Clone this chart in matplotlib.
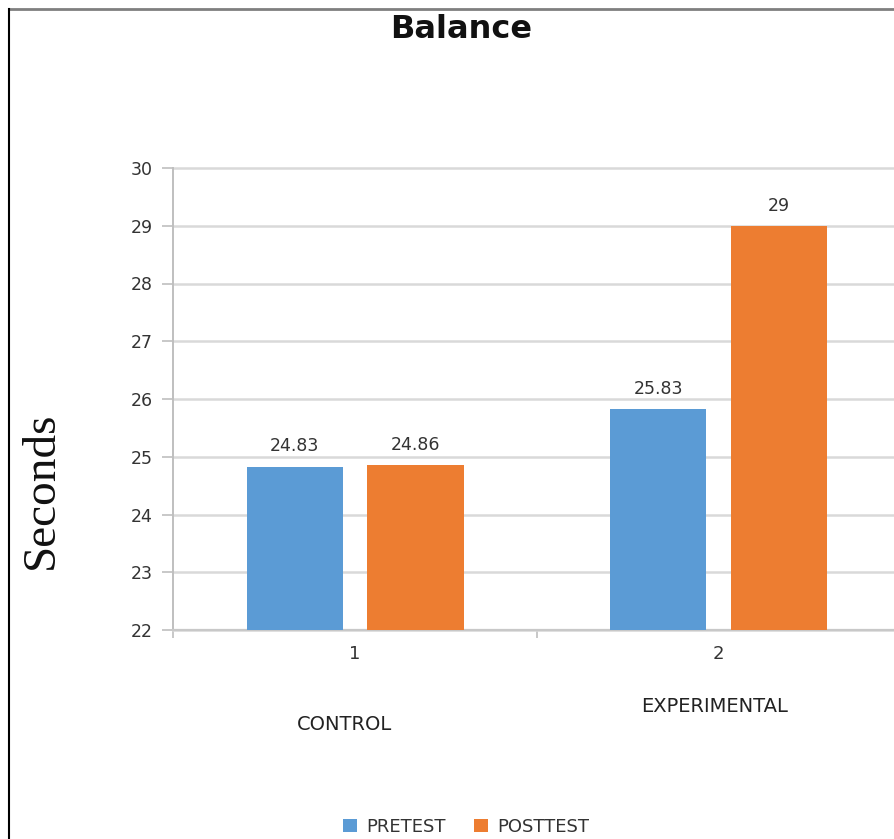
import matplotlib
matplotlib.use("Agg")
import matplotlib.pyplot as plt
from matplotlib.lines import Line2D
import numpy as np

# Data
groups = ["1", "2"]
group_names = ["CONTROL", "EXPERIMENTAL"]
series_names = ["PRETEST", "POSTTEST"]
pretest = [24.83, 25.83]
posttest = [24.86, 29.0]
value_labels_pre = ["24.83", "25.83"]
value_labels_post = ["24.86", "29"]
y_ticks = [22, 23, 24, 25, 26, 27, 28, 29, 30]

blue = "#5B9BD5"
orange = "#ED7D31"
grid_col = "#D9D9D9"
text_col = "#333333"

W, H = 895, 839
fig = plt.figure(figsize=(W / 100, H / 100), dpi=100)
fig.patch.set_facecolor("white")

ax = fig.add_axes([173.5 / W, 1 - 630 / H, 726.5 / W, 462 / H])
ax.set_facecolor("white")

x = np.arange(len(groups)) + 0.5
bw = 0.265
off = 0.166
b1 = ax.bar(x - off, [v - 22 for v in pretest], bottom=22, width=bw, color=blue, zorder=3)
b2 = ax.bar(x + off, [v - 22 for v in posttest], bottom=22, width=bw, color=orange, zorder=3)

ax.set_xlim(0, 2)
ax.set_ylim(22, 30)
ax.set_yticks(y_ticks)
ax.set_yticklabels([str(t) for t in y_ticks], fontsize=12.5, color=text_col)
ax.yaxis.grid(True, color=grid_col, linewidth=1.8, zorder=0)
for gl in ax.get_ygridlines():
    gl.set_clip_on(False)
ax.set_axisbelow(True)

ax.set_xticks([0, 1, 2])
ax.set_xticklabels(["", "", ""])
ax.set_xticks(x, minor=True)
ax.set_xticklabels(groups, minor=True, fontsize=13, color=text_col)
ax.tick_params(axis="x", which="minor", length=0, pad=11)
ax.tick_params(axis="x", which="major", length=6, color="#BFBFBF", width=1.2)
ax.tick_params(axis="y", length=8, color="#BFBFBF", width=1.2, pad=7)

for s in ["top", "right"]:
    ax.spines[s].set_visible(False)
ax.spines["left"].set_color("#BFBFBF")
ax.spines["left"].set_linewidth(1.4)
ax.spines["bottom"].set_color("#C8C8C8")
ax.spines["bottom"].set_linewidth(1.6)

# Value labels above bars
for xi, v, lab in zip(x - off, pretest, value_labels_pre):
    ax.annotate(lab, (xi, v), xytext=(0, 8), textcoords="offset points",
                ha="center", va="bottom", fontsize=12.5, color=text_col)
for xi, v, lab in zip(x + off, posttest, value_labels_post):
    ax.annotate(lab, (xi, v), xytext=(0, 8), textcoords="offset points",
                ha="center", va="bottom", fontsize=12.5, color=text_col)

# Titles and labels
fig.text(461 / W, 1 - 29 / H, "Balance", ha="center", va="center",
         fontsize=23, fontweight="bold", color="#111111")
fig.text(42 / W, 1 - 490 / H, "Seconds", ha="center", va="center",
         rotation=90, fontsize=34, family="Liberation Serif", color="#111111")
fig.text(345 / W, 1 - 725 / H, group_names[0], ha="center", va="center",
         fontsize=14, color="#222222")
fig.text(715 / W, 1 - 707 / H, group_names[1], ha="center", va="center",
         fontsize=14, color="#222222")

# Legend
leg = fig.legend([b1, b2], series_names, loc="center", bbox_to_anchor=(466 / W, 1 - 827 / H),
                 ncol=2, frameon=False, fontsize=13, handlelength=0.75, handleheight=0.75,
                 handletextpad=0.5, columnspacing=1.6, labelcolor="#333333")

# Outer frame (top and left edges)
fig.add_artist(Line2D([9.5 / W, 1], [1 - 8.5 / H, 1 - 8.5 / H], transform=fig.transFigure,
                      color="#7F7F7F", linewidth=2))
fig.add_artist(Line2D([9.5 / W, 9.5 / W], [0, 1 - 8.5 / H], transform=fig.transFigure,
                      color="#000000", linewidth=1.5))

fig.savefig("out.png", dpi=100, facecolor="white")
